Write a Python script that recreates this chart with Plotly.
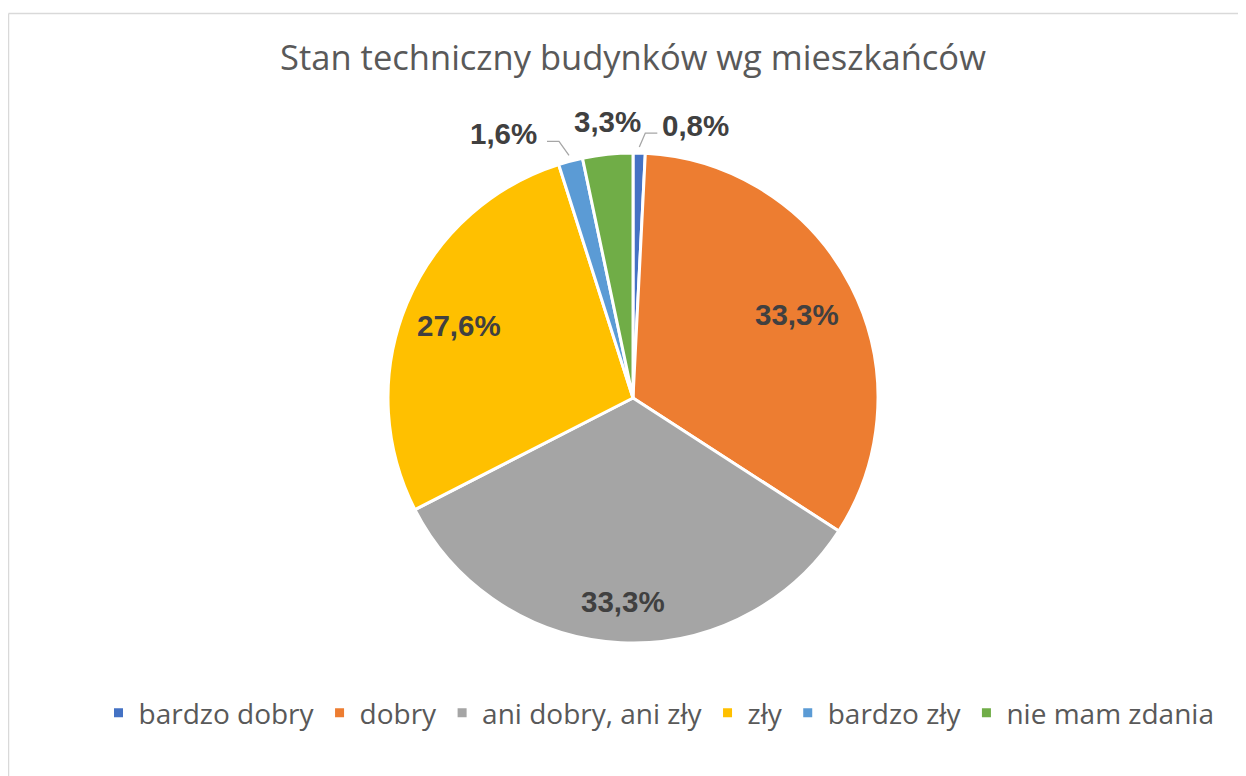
import math
import plotly.graph_objects as go

labels = ["bardzo dobry", "dobry", "ani dobry, ani zły", "zły", "bardzo zły", "nie mam zdania"]
values = [0.8, 33.3, 33.3, 27.6, 1.6, 3.3]
colors = ["#4472C4", "#ED7D31", "#A5A5A5", "#FFC000", "#5B9BD5", "#70AD47"]
title_text = "Stan techniczny budynków wg mieszkańców"

# ---- geometry (page pixels; the page body adds an 8px margin) ----
OFF = 8
FW, FH = 1246 - OFF, 776 - OFF
CX, CY, R = 633, 398, 245


def px(x):
    return (x - OFF) / FW


def py(y):
    return 1 - (y - OFF) / FH


# label placement style: ("in", radius factor) / ("out", leader dx, dy, horizontal len) / ("up", offset)
label_style = [
    ("out", 6, -14, 12),
    ("in", 0.75),
    ("in", 0.83),
    ("in", 0.77),
    ("out", -10, -14, -12),
    ("up", 33),
]

fig = go.Figure()
fig.add_trace(go.Pie(
    labels=labels,
    values=values,
    sort=False,
    direction="clockwise",
    rotation=0,
    marker=dict(colors=colors, line=dict(color="white", width=3)),
    textinfo="none",
    domain=dict(x=[px(CX - R), px(CX + R)], y=[py(CY + R), py(CY - R)]),
    hoverinfo="label+percent",
))

total = sum(values)
font_lbl = dict(family="Liberation Sans", size=29.5, color="#404040", weight="bold")
annotations = []
shapes = []
cum = 0.0
for v, st in zip(values, label_style):
    mid = (cum + v / 2) / total * 2 * math.pi
    cum += v
    sx, sy = math.sin(mid), -math.cos(mid)
    txt = f"{v / total * 100:.1f}%".replace(".", ",")
    if st[0] == "in":
        x, y = CX + st[1] * R * sx, CY + st[1] * R * sy
        annotations.append(dict(x=px(x), y=py(y), xref="paper", yref="paper", text=txt,
                                showarrow=False, font=font_lbl, xanchor="center", yanchor="middle"))
    elif st[0] == "up":
        x, y = CX + R * sx, CY + R * sy - st[1]
        annotations.append(dict(x=px(x), y=py(y), xref="paper", yref="paper", text=txt,
                                showarrow=False, font=font_lbl, xanchor="center", yanchor="middle"))
    else:
        _, dx, dy, hl = st
        x0, y0 = CX + (R + 6) * sx, CY + (R + 6) * sy
        x1, y1 = x0 + dx, y0 + dy
        x2 = x1 + hl
        shapes.append(dict(type="path", xref="paper", yref="paper",
                           path=f"M {px(x0)} {py(y0)} L {px(x1)} {py(y1)} L {px(x2)} {py(y1)}",
                           line=dict(color="#A6A6A6", width=1.3)))
        tx = x2 + (3 if hl > 0 else -8)
        annotations.append(dict(x=px(tx), y=py(y1 - 8), xref="paper", yref="paper", text=txt,
                                showarrow=False, font=font_lbl,
                                xanchor="left" if hl > 0 else "right", yanchor="middle"))

# chart border (only top and left edges are visible in the frame)
shapes += [
    dict(type="line", xref="paper", yref="paper", x0=px(8.5), x1=1.0, y0=py(13.5), y1=py(13.5),
         line=dict(color="#D9D9D9", width=1.5)),
    dict(type="line", xref="paper", yref="paper", x0=px(8.5), x1=px(8.5), y0=0, y1=py(13.5),
         line=dict(color="#D9D9D9", width=1.5)),
]

fig.update_layout(
    width=FW, height=FH,
    margin=dict(l=0, r=0, t=0, b=0),
    paper_bgcolor="white",
    plot_bgcolor="white",
    title=dict(text=title_text, x=px(633), xanchor="center", y=py(58), yanchor="middle",
               font=dict(family="Open Sans", size=34.5, color="#595959")),
    showlegend=True,
    legend=dict(orientation="h", x=px(659), xanchor="center", y=py(713), yanchor="middle",
                font=dict(family="Open Sans", size=28, color="#595959"),
                itemwidth=30, traceorder="normal"),
    annotations=annotations,
    shapes=shapes,
)

fig.write_html("out.html")
